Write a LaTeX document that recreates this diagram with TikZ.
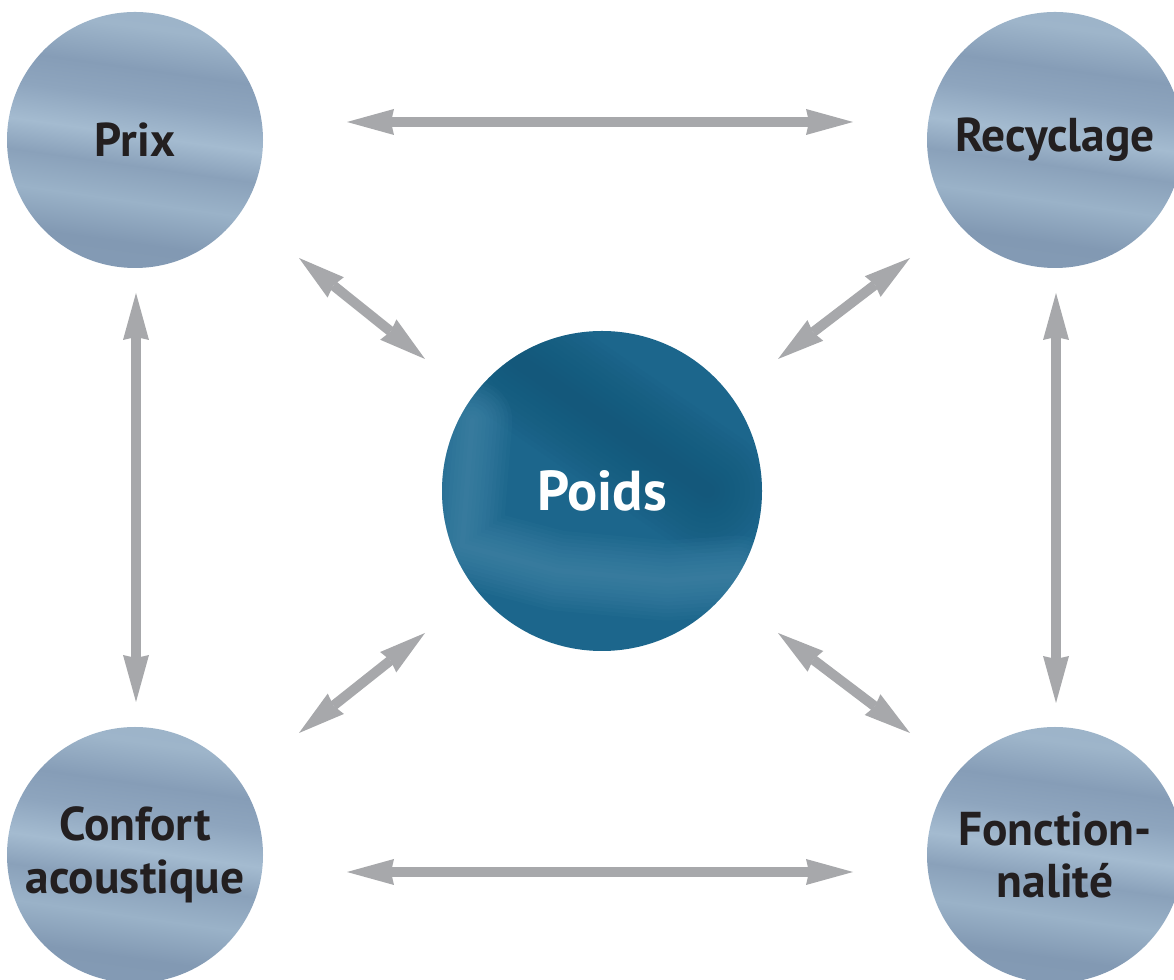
\documentclass[tikz,border=0pt]{standalone}
\usepackage{fontspec}
\setmainfont{PT Sans}
\usetikzlibrary{arrows.meta}

\definecolor{arrowgray}{HTML}{A7A8AB}
\definecolor{inkdark}{HTML}{231F20}
\definecolor{hubbase}{HTML}{1C668C}
\definecolor{hubdark}{HTML}{145475}
\definecolor{hublight}{HTML}{5393B4}
\definecolor{satA}{HTML}{8AA1BA}
\definecolor{satB}{HTML}{8299B3}
\definecolor{satC}{HTML}{9AB2C8}
\definecolor{satD}{HTML}{8AA1BA}
\definecolor{satE}{HTML}{A4BBD0}
\definecolor{satF}{HTML}{8EA5BE}
\definecolor{satG}{HTML}{869DB7}
\definecolor{satH}{HTML}{9EB5CA}
\definecolor{satI}{HTML}{90A7C0}

\pgfdeclareverticalshading{satin}{100bp}{color(0bp)=(satA); color(30bp)=(satB);
  color(38bp)=(satC); color(45bp)=(satD); color(51bp)=(satE); color(58bp)=(satF);
  color(64bp)=(satG); color(72bp)=(satH); color(100bp)=(satI)}

\tikzset{
  corner/.style={circle, minimum size=5.12cm, inner sep=0pt, shading=satin,
    shading angle=-8, text=inkdark, align=center,
    font=\fontsize{27}{30}\selectfont\bfseries},
  hub/.style={circle, minimum size=6.4cm, inner sep=0pt, fill=hubbase, text=white,
    font=\fontsize{32}{32}\selectfont\bfseries,
    path picture={
      \begin{scope}[shift={(path picture bounding box.center)}]
        \foreach \w in {0.3,0.5,...,2.5}
          \draw[hubdark, opacity=0.07, line width=\w cm, line cap=round]
            (-0.4,3.0) -- (3.4,0.4);
        \foreach \w in {0.1,0.25,...,1.6}
          \draw[hublight, opacity=0.07, line width=\w cm, line cap=round, line join=round]
            (-1.3,1.8) -- (-1.5,-0.7) -- (0.4,-1.2) -- (2.6,-1.4) -- (4,-1.3);
      \end{scope}
    }},
  twoway/.style={arrowgray, line width=0.2cm,
    {Stealth[length=0.94cm,width=0.52cm,inset=0.06cm,line width=0pt]}-{Stealth[length=0.94cm,width=0.52cm,inset=0.06cm,line width=0pt]}}
}

\begin{document}
\begin{tikzpicture}
  \useasboundingbox (0,0) rectangle (23.48,19.58);
  \clip (0,0) rectangle (23.48,19.58);
  \path
    (2.70,16.78) node[corner] (prix){Prix}
    (21.10,16.78) node[corner] (recyclage){Recyclage}
    (2.70,2.48) node[corner] (confort){Confort\\acoustique}
    (21.10,2.48) node[corner] (fonction){Fonction-\\nalité}
    (12.04,9.76) node[hub] (poids){Poids};
  \begin{scope}[twoway]
    \draw ([shift={(4.24,0.36)}]prix.center) to ([shift={(-4.04,0.36)}]recyclage.center);
    \draw ([shift={(4.24,-0.34)}]confort.center) to ([shift={(-4.04,-0.34)}]fonction.center);
    \draw ([shift={(0.02,-3.06)}]prix.center) to ([shift={(0.02,3.06)}]confort.center);
    \draw ([shift={(0.02,-3.06)}]recyclage.center) to ([shift={(0.02,3.04)}]fonction.center);
    \draw ([shift={(3.28,-2.36)}]prix.center) to ([shift={(-3.54,2.64)}]poids.center);
    \draw ([shift={(-2.90,-2.36)}]recyclage.center) to ([shift={(3.52,2.64)}]poids.center);
    \draw ([shift={(-3.54,-2.84)}]poids.center) to ([shift={(3.28,2.44)}]confort.center);
    \draw ([shift={(3.52,-2.84)}]poids.center) to ([shift={(-2.90,2.44)}]fonction.center);
  \end{scope}
\end{tikzpicture}
\end{document}
